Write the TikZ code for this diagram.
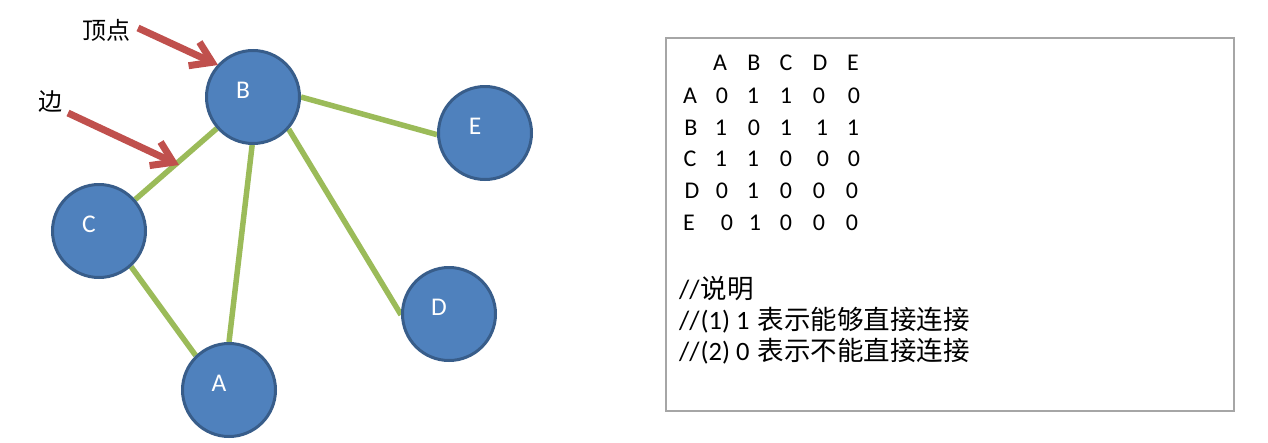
\documentclass[tikz,border=0pt]{standalone}
\usepackage{fontspec}
\setmainfont{Carlito}
\newfontfamily\cjk{Noto Sans CJK SC}
\usetikzlibrary{arrows.meta,backgrounds}
\definecolor{nodefill}{HTML}{4F81BD}
\definecolor{nodeborder}{HTML}{385D8A}
\definecolor{edgegreen}{HTML}{9BBB59}
\definecolor{arrowred}{HTML}{C0504D}
\definecolor{boxgray}{HTML}{A6A6A6}
\newcommand{\cjkbig}{\cjk\fontsize{26.5}{30}\selectfont}
\tikzset{
  vertex/.style={circle, fill=nodefill, draw=nodeborder, line width=3pt, minimum size=93pt, inner sep=0pt},
  vlabel/.style={text=white, font=\fontsize{25.5}{29}\selectfont, xshift=-10pt, yshift=7pt},
  edge/.style={draw=edgegreen, line width=5.5pt},
  redarrow/.style={draw=arrowred, line width=7pt, -{Straight Barb[length=20pt,width=26pt]}},
  cell/.style={anchor=base, inner sep=0pt, font=\fontsize{24}{28}\selectfont},
  note/.style={anchor=base west, inner sep=0pt, font=\fontsize{26.5}{30}\selectfont},
  cjklabel/.style={inner sep=0pt, font=\cjk\fontsize{24}{28}\selectfont},
  tablebox/.style={draw=boxgray, line width=1.5pt}
}
\begin{document}
\begin{tikzpicture}[x=1pt,y=-1pt]
\useasboundingbox (0,0) rectangle (1268,442);
% vertices
\node[vertex, label={[vlabel]center:B}] (B) at (253,97) {};
\node[vertex, label={[vlabel]center:E}] (E) at (485,133) {};
\node[vertex, label={[vlabel]center:C}] (C) at (99,231) {};
\node[vertex, label={[vlabel]center:D}] (D) at (449,314) {};
\node[vertex, label={[vlabel]center:A}] (A) at (229,390) {};
% edges
\begin{scope}[on background layer]
\draw[edge] (B.0) -- (E.182);
\draw[edge] (B.221) -- (C.41);
\draw[edge] (B.269) -- (A.90);
\draw[edge] (B.318) -- (D.181);
\draw[edge] (C.312) -- (A.134);
\end{scope}
% annotations
\node[cjklabel] (lvertex) at (106,30) {顶点};
\node[cjklabel] (ledge) at (50,102) {边};
\coordinate (a1s) at (138,28);
\coordinate (a1e) at (218,65);
\coordinate (a2s) at (68,113);
\coordinate (a2e) at (179,165);
\draw[redarrow] (a1s) -- (a1e);
\draw[redarrow] (a2s) -- (a2e);
% box
\node[tablebox, anchor=north west, minimum width=568pt, minimum height=373pt, inner sep=0pt] (box) at (665,37) {};
% matrix
\foreach \n/\x/\y/\t in {
  hA/720/70/A, hB/754/70/B, hC/786/70/C, hD/820/70/D, hE/853/70/E,
  rA/690/103/A, aA/722/103/0, aB/753/103/1, aC/786/103/1, aD/819/103/0, aE/854/103/0,
  rB/691/135/B, bA/721/135/1, bB/754/135/0, bC/786/135/1, bD/822/135/1, bE/853/135/1,
  rC/690/166/C, cA/721/166/1, cB/753/166/1, cC/786/166/0, cD/823/166/0, cE/854/166/0,
  rD/692/198/D, dA/722/198/0, dB/753/198/1, dC/786/198/0, dD/819/198/0, dE/852/198/0,
  rE/689/230/E, eA/727/230/0, eB/755/230/1, eC/786/230/0, eD/819/230/0, eE/852/230/0}
  \node[cell] (\n) at (\x,\y) {\t};
% notes
\node[note] (n1) at (679,298) {//\hspace{1pt}{\cjkbig 说明}};
\node[note] (n2) at (679,329) {//\hspace{1pt}(1) 1\hspace{2pt} {\cjkbig 表示能够直接连接}};
\node[note] (n3) at (679,360) {//\hspace{1pt}(2) 0\hspace{2pt} {\cjkbig 表示不能直接连接}};
\end{tikzpicture}
\end{document}
